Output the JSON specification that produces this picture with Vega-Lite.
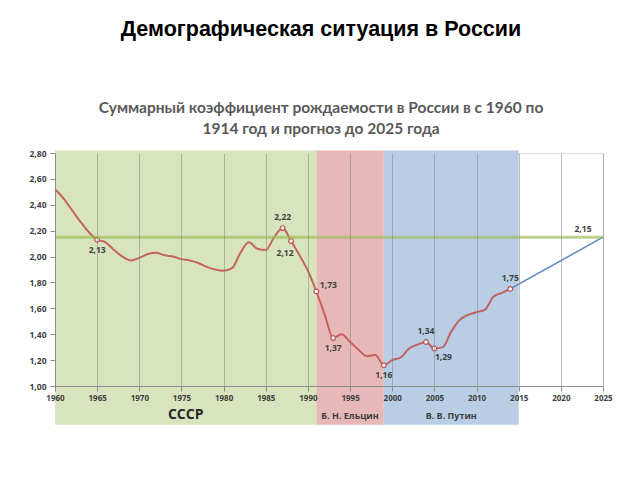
{
  "$schema": "https://vega.github.io/schema/vega-lite/v6.json",
  "width": 548,
  "height": 233,
  "autosize": {"type": "pad"},
  "padding": {"left": 28, "top": 19, "right": 5, "bottom": 5},
  "background": "white",
  "title": {
    "text": "Демографическая ситуация в России",
    "subtitle": ["Суммарный коэффициент рождаемости в России в с 1960 по", "1914 год и прогноз до 2025 года"],
    "font": "Liberation Sans",
    "fontSize": 21.5,
    "fontWeight": "bold",
    "color": "#000000",
    "subtitleFont": "Lato",
    "subtitleFontSize": 15.5,
    "subtitleFontWeight": "bold",
    "subtitleColor": "#595959",
    "subtitlePadding": 60,
    "subtitleLineHeight": 21,
    "offset": 12,
    "anchor": "middle",
    "dx": -8
  },
  "datasets": {
    "tfr": [
      {"year": 1960, "v": 2.52}, {"year": 1961, "v": 2.45}, {"year": 1962, "v": 2.36},
      {"year": 1963, "v": 2.27}, {"year": 1964, "v": 2.19}, {"year": 1965, "v": 2.13},
      {"year": 1966, "v": 2.11}, {"year": 1967, "v": 2.05}, {"year": 1968, "v": 2.00},
      {"year": 1969, "v": 1.97}, {"year": 1970, "v": 1.99}, {"year": 1971, "v": 2.02},
      {"year": 1972, "v": 2.03}, {"year": 1973, "v": 2.01}, {"year": 1974, "v": 2.00},
      {"year": 1975, "v": 1.98}, {"year": 1976, "v": 1.97}, {"year": 1977, "v": 1.95},
      {"year": 1978, "v": 1.92}, {"year": 1979, "v": 1.90}, {"year": 1980, "v": 1.89},
      {"year": 1981, "v": 1.91}, {"year": 1982, "v": 2.03}, {"year": 1983, "v": 2.11},
      {"year": 1984, "v": 2.06}, {"year": 1985, "v": 2.05}, {"year": 1986, "v": 2.15},
      {"year": 1987, "v": 2.22}, {"year": 1988, "v": 2.12}, {"year": 1989, "v": 2.01},
      {"year": 1990, "v": 1.89}, {"year": 1991, "v": 1.73}, {"year": 1992, "v": 1.55},
      {"year": 1993, "v": 1.37}, {"year": 1994, "v": 1.40}, {"year": 1995, "v": 1.34},
      {"year": 1996, "v": 1.28}, {"year": 1997, "v": 1.23}, {"year": 1998, "v": 1.24},
      {"year": 1999, "v": 1.16}, {"year": 2000, "v": 1.20}, {"year": 2001, "v": 1.22},
      {"year": 2002, "v": 1.29}, {"year": 2003, "v": 1.32}, {"year": 2004, "v": 1.34},
      {"year": 2005, "v": 1.29}, {"year": 2006, "v": 1.30}, {"year": 2007, "v": 1.42},
      {"year": 2008, "v": 1.51}, {"year": 2009, "v": 1.55}, {"year": 2010, "v": 1.57},
      {"year": 2011, "v": 1.59}, {"year": 2012, "v": 1.69}, {"year": 2013, "v": 1.72},
      {"year": 2014, "v": 1.75}
    ],
    "eras": [
      {"era": "СССР", "year": 1960, "year2": 1991},
      {"era": "Б. Н. Ельцин", "year": 1991, "year2": 1999},
      {"era": "В. В. Путин", "year": 1999, "year2": 2015}
    ],
    "proj": [
      {"year": 2014, "v": 1.75, "lab": "1,75"},
      {"year": 2025, "v": 2.15, "lab": "2,15"}
    ],
    "marks": [
      {"year": 1965, "v": 2.13, "lab": "2,13"},
      {"year": 1987, "v": 2.22, "lab": "2,22"},
      {"year": 1988, "v": 2.12, "lab": "2,12"},
      {"year": 1991, "v": 1.73, "lab": "1,73"},
      {"year": 1993, "v": 1.37, "lab": "1,37"},
      {"year": 1999, "v": 1.16, "lab": "1,16"},
      {"year": 2004, "v": 1.34, "lab": "1,34"},
      {"year": 2005, "v": 1.29, "lab": "1,29"},
      {"year": 2014, "v": 1.75, "lab": "1,75"}
    ]
  },
  "layer": [
    {
      "encoding": {
        "x": {
          "field": "year",
          "type": "quantitative",
          "title": null,
          "scale": {"domain": [1960, 2025], "nice": false, "zero": false},
          "axis": {
            "title": null,
            "values": [1960, 1965, 1970, 1975, 1980, 1985, 1990, 1995, 2000, 2005, 2010, 2015, 2020, 2025],
            "format": "d",
            "grid": true,
            "gridColor": "#7f7f7f",
            "gridOpacity": 0.5,
            "domainColor": "#8c8c8c",
            "tickColor": "#8c8c8c",
            "tickSize": 5,
            "labelFont": "Open Sans",
            "labelFontSize": 8,
            "labelFontWeight": "bold",
            "labelColor": "#404040",
            "labelPadding": 3,
            "labelFlush": false,
            "labelOverlap": false,
            "zindex": 1
          }
        },
        "y": {
          "field": "v",
          "type": "quantitative",
          "title": null,
          "scale": {"domain": [1, 2.8], "nice": false, "zero": false},
          "axis": {
            "title": null,
            "values": [1, 1.2, 1.4, 1.6, 1.8, 2, 2.2, 2.4, 2.6, 2.8],
            "labelExpr": "replace(format(datum.value, '.2f'), '.', ',')",
            "grid": false,
            "domainColor": "#8c8c8c",
            "tickColor": "#8c8c8c",
            "tickSize": 5,
            "labelFont": "Open Sans",
            "labelFontSize": 8.5,
            "labelFontWeight": "bold",
            "labelColor": "#404040",
            "labelPadding": 4,
            "labelOverlap": false,
            "zindex": 1
          }
        }
      },
      "layer": [
        {
          "data": {"name": "eras"},
          "transform": [
            {"calculate": "2.82", "as": "v"},
            {"calculate": "0.7", "as": "v2"}
          ],
          "mark": {"type": "rect", "opacity": 1},
          "encoding": {
            "x2": {"field": "year2"},
            "y2": {"field": "v2"},
            "color": {
              "field": "era",
              "type": "nominal",
              "scale": {"domain": ["СССР", "Б. Н. Ельцин", "В. В. Путин"], "range": ["#d7e4bd", "#e6b9b8", "#b9cde5"]},
              "legend": null
            }
          }
        },
        {
          "data": {"name": "proj"},
          "mark": {"type": "line", "color": "#5b87c2", "strokeWidth": 1.5},
          "encoding": {}
        },
        {
          "data": {"name": "tfr"},
          "mark": {"type": "line", "color": "#c0504d", "strokeWidth": 2, "opacity": 0.85, "interpolate": "monotone"},
          "encoding": {}
        },
        {
          "data": {"name": "marks"},
          "mark": {"type": "point", "shape": "circle", "filled": true, "fill": "white", "stroke": "#c0504d", "strokeWidth": 1.2, "size": 22, "opacity": 1},
          "encoding": {}
        },
        {
          "data": {"name": "marks"},
          "transform": [{"filter": {"field": "year", "oneOf": [1987, 2004, 2014]}}],
          "mark": {"type": "text", "font": "Open Sans", "fontSize": 8.5, "fontWeight": "bold", "color": "#404040", "dy": -11},
          "encoding": {"text": {"field": "lab"}}
        },
        {
          "data": {"name": "marks"},
          "transform": [{"filter": {"field": "year", "oneOf": [1965, 1993, 1999]}}],
          "mark": {"type": "text", "font": "Open Sans", "fontSize": 8.5, "fontWeight": "bold", "color": "#404040", "dy": 10},
          "encoding": {"text": {"field": "lab"}}
        },
        {
          "data": {"name": "marks"},
          "transform": [{"filter": {"field": "year", "oneOf": [1988]}}],
          "mark": {"type": "text", "font": "Open Sans", "fontSize": 8.5, "fontWeight": "bold", "color": "#404040", "dy": 12, "dx": -6},
          "encoding": {"text": {"field": "lab"}}
        },
        {
          "data": {"name": "marks"},
          "transform": [{"filter": {"field": "year", "oneOf": [1991]}}],
          "mark": {"type": "text", "font": "Open Sans", "fontSize": 8.5, "fontWeight": "bold", "color": "#404040", "dy": -7, "dx": 12},
          "encoding": {"text": {"field": "lab"}}
        },
        {
          "data": {"name": "marks"},
          "transform": [{"filter": {"field": "year", "oneOf": [2005]}}],
          "mark": {"type": "text", "font": "Open Sans", "fontSize": 8.5, "fontWeight": "bold", "color": "#404040", "dy": 9, "dx": 9},
          "encoding": {"text": {"field": "lab"}}
        },
        {
          "data": {"name": "proj"},
          "transform": [{"filter": {"field": "year", "equal": 2025}}],
          "mark": {"type": "text", "font": "Open Sans", "fontSize": 8.5, "fontWeight": "bold", "color": "#404040", "dy": -8, "dx": -20},
          "encoding": {"text": {"field": "lab"}}
        },
        {
          "data": {"name": "eras"},
          "transform": [
            {"filter": {"field": "era", "equal": "СССР"}},
            {"calculate": "(datum.year + datum.year2) / 2", "as": "mid"},
            {"calculate": "0.776", "as": "v"}
          ],
          "mark": {"type": "text", "font": "Open Sans", "fontSize": 14, "fontWeight": "bold", "color": "#262626", "baseline": "middle"},
          "encoding": {
            "x": {"field": "mid", "type": "quantitative"},
            "text": {"field": "era"}
          }
        },
        {
          "data": {"name": "eras"},
          "transform": [
            {"filter": {"field": "era", "oneOf": ["Б. Н. Ельцин", "В. В. Путин"]}},
            {"calculate": "(datum.year + datum.year2) / 2", "as": "mid"},
            {"calculate": "0.768", "as": "v"}
          ],
          "mark": {"type": "text", "font": "Open Sans", "fontSize": 9, "fontWeight": "bold", "color": "#404040", "baseline": "middle"},
          "encoding": {
            "x": {"field": "mid", "type": "quantitative"},
            "text": {"field": "era"}
          }
        }
      ]
    },
    {
      "data": {"values": [{"t": "2,15"}]},
      "mark": {"type": "rule", "color": "#9bbb59", "opacity": 0.65, "strokeWidth": 3},
      "encoding": {
        "x": {
          "datum": 1960,
          "type": "quantitative",
          "title": null,
          "axis": {
            "title": null,
            "values": [1960, 1965, 1970, 1975, 1980, 1985, 1990, 1995, 2000, 2005, 2010, 2015, 2020, 2025],
            "format": "d",
            "grid": true,
            "gridColor": "#7f7f7f",
            "gridOpacity": 0.5,
            "domainColor": "#8c8c8c",
            "tickColor": "#8c8c8c",
            "tickSize": 5,
            "labelFont": "Open Sans",
            "labelFontSize": 8,
            "labelFontWeight": "bold",
            "labelColor": "#404040",
            "labelPadding": 3,
            "labelFlush": false,
            "labelOverlap": false,
            "zindex": 1
          }
        },
        "x2": {"datum": 2025},
        "y": {
          "datum": 2.15,
          "type": "quantitative",
          "title": null,
          "axis": {
            "title": null,
            "values": [1, 1.2, 1.4, 1.6, 1.8, 2, 2.2, 2.4, 2.6, 2.8],
            "labelExpr": "replace(format(datum.value, '.2f'), '.', ',')",
            "grid": false,
            "domainColor": "#8c8c8c",
            "tickColor": "#8c8c8c",
            "tickSize": 5,
            "labelFont": "Open Sans",
            "labelFontSize": 8.5,
            "labelFontWeight": "bold",
            "labelColor": "#404040",
            "labelPadding": 4,
            "labelOverlap": false,
            "zindex": 1
          }
        }
      }
    }
  ]
}
